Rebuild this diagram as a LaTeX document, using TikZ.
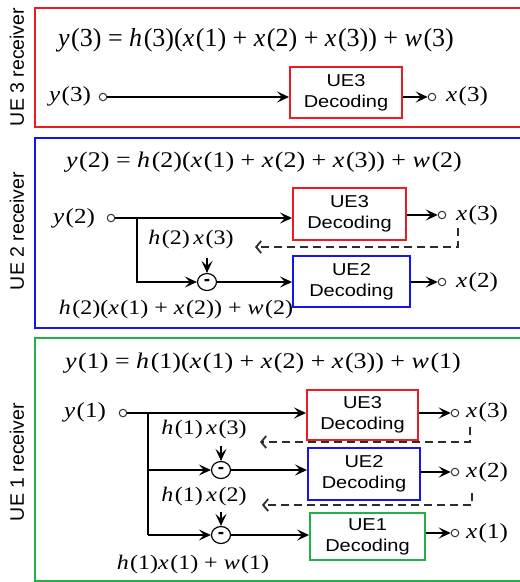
\documentclass[tikz,border=0pt]{standalone}
\usepackage{fontspec}
\setmainfont{Liberation Serif}
\setsansfont{Liberation Sans}
\newfontfamily\tms{Liberation Serif}
\usepackage{graphicx}
\usetikzlibrary{arrows.meta,shapes.geometric}
\definecolor{cred}{RGB}{237,28,36}
\definecolor{cblue}{RGB}{20,20,240}
\definecolor{cgreen}{RGB}{34,175,76}
\definecolor{cdash}{RGB}{45,45,45}
\newcommand\Vv[2]{\textit{#1}\kern0.06em(#2)}
\newcommand\op[1]{\hspace{0.25em}#1\hspace{0.25em}}
\newcommand\sq[1]{\scalebox{1}[0.86]{#1}}
\tikzset{
  frame/.style={line width=2.2pt},
  lab/.style={font=\sffamily\fontsize{19.5}{20}\selectfont, inner sep=0, rotate=90},
  eqn/.style={font=\tms\fontsize{26}{27}\selectfont, inner sep=0},
  mt/.style={font=\tms\fontsize{25}{26}\selectfont, inner sep=0},
  sm/.style={font=\tms\fontsize{24}{25}\selectfont, inner sep=0},
  dec/.style={draw, line width=1.9pt, inner sep=0, align=center,
    font=\sffamily\fontsize{20}{21}\selectfont},
  port/.style={circle, draw=black!80, line width=1pt, minimum size=7.5pt, inner sep=0, fill=white},
  sub/.style={ellipse, draw, line width=1.2pt, minimum width=19pt, minimum height=17pt, inner sep=0,
    font=\sffamily\bfseries\fontsize{19}{19}\selectfont},
  sig/.style={line width=1.9pt, -{Stealth[length=12pt,width=11pt,inset=5pt]}},
  ln/.style={line width=1.9pt},
  fb/.style={line width=1.8pt, draw=cdash, dash pattern=on 8pt off 5pt, -{Straight Barb[length=5pt,width=12pt,line width=1.8pt]}}
}
\begin{document}
\begin{tikzpicture}[x=1pt,y=1pt]
\clip (0,0) rectangle (520,-582);
\fill[white] (0,0) rectangle (520,-582);

% ---------- Panel 1 : UE3 receiver ----------
\draw[frame, cred] (35,-8) rectangle (530,-127);
\node[lab] (l3) at (17,-67) {UE 3 receiver};
\node[eqn] (e3) at (256,-40) {\Vv{y}{3}\op{=}\Vv{h}{3}(\Vv{x}{1}\op{+}\Vv{x}{2}\op{+}\Vv{x}{3})\op{+}\Vv{w}{3}};
\node[mt] (y3) at (70,-96) {\sq{\Vv{y}{3}}};
\node[port] (p3) at (103,-97) {};
\node[dec, draw=cred, minimum width=112pt, minimum height=51pt] (d3) at (346,-92.5) {\sq{UE3}\\\sq{Decoding}};
\node[port] (o3) at (432,-97) {};
\node[mt] (x3) at (467,-96) {\sq{\Vv{x}{3}}};
\draw[sig] (p3) -- (p3 -| d3.west);
\draw[sig] (d3.east |- o3) -- (o3);

% ---------- Panel 2 : UE2 receiver ----------
\draw[frame, cblue] (35,-138) rectangle (530,-328);
\node[lab] (l2) at (17,-231) {UE 2 receiver};
\node[eqn] (e2) at (264,-162) {\sq{\Vv{y}{2}\op{=}\Vv{h}{2}(\Vv{x}{1}\op{+}\Vv{x}{2}\op{+}\Vv{x}{3})\op{+}\Vv{w}{2}}};
\node[mt] (y2) at (74,-218) {\sq{\Vv{y}{2}}};
\node[port] (p2) at (111,-218) {};
\node[dec, draw=cred, minimum width=113pt, minimum height=52pt] (d23) at (349.5,-214) {\sq{UE3}\\\sq{Decoding}};
\node[dec, draw=cblue, minimum width=117pt, minimum height=51pt] (d22) at (351.5,-281.5) {\sq{UE2}\\\sq{Decoding}};
\node[sub] (m2) at (207,-282) {-};
\coordinate (b2) at (137,-218);
\node[port] (o23) at (442,-215) {};
\node[port] (o22) at (442,-282) {};
\node[mt] (x23) at (477,-215) {\sq{\Vv{x}{3}}};
\node[mt] (x22) at (477,-282) {\sq{\Vv{x}{2}}};
\node[sm] (h23) at (191,-240) {\sq{\Vv{h}{2}\kern0.15em\Vv{x}{3}}};
\node[sm] (r2) at (176,-310) {\sq{\Vv{h}{2}(\Vv{x}{1}\op{+}\Vv{x}{2})\op{+}\Vv{w}{2}}};
\draw[sig] (p2) -- (d23.west |- p2);
\draw[sig] (b2) |- (m2);
\draw[sig] (m2) -- (d22.west |- m2);
\draw[sig] (d23.east |- o23) -- (o23);
\draw[sig] (d22.east |- o22) -- (o22);
\coordinate (f2a) at (458,-228);
\coordinate (f2b) at (458,-247);
\coordinate (f2c) at (255,-247);
\draw[fb] (f2a) -- (f2b) -- (f2c);
\coordinate (t2) at (207,-258);
\draw[sig] (t2) -- (m2);

% ---------- Panel 3 : UE1 receiver ----------
\draw[frame, cgreen] (35,-338) rectangle (530,-581);
\node[lab] (l1) at (17,-462) {UE 1 receiver};
\node[eqn] (e1) at (263,-363) {\sq{\Vv{y}{1}\op{=}\Vv{h}{1}(\Vv{x}{1}\op{+}\Vv{x}{2}\op{+}\Vv{x}{3})\op{+}\Vv{w}{1}}};
\node[mt] (y1) at (85,-412) {\sq{\Vv{y}{1}}};
\node[port] (p1) at (123,-413) {};
\coordinate (b1) at (148,-413);
\node[dec, draw=cred, minimum width=111pt, minimum height=50pt] (d13) at (362.5,-415) {\sq{UE3}\\\sq{Decoding}};
\node[dec, draw=cblue, minimum width=112pt, minimum height=52pt] (d12) at (364,-474) {\sq{UE2}\\\sq{Decoding}};
\node[dec, draw=cgreen, minimum width=115pt, minimum height=47pt] (d11) at (367.5,-536.5) {\sq{UE1}\\\sq{Decoding}};
\node[sub] (m11) at (221,-470) {-};
\node[sub] (m12) at (221,-535) {-};
\node[port] (o13) at (455,-413) {};
\node[port] (o12) at (455,-472) {};
\node[port] (o11) at (455,-533) {};
\node[mt] (x13) at (487,-412) {\sq{\Vv{x}{3}}};
\node[mt] (x12) at (487,-472) {\sq{\Vv{x}{2}}};
\node[mt] (x11) at (487,-533) {\sq{\Vv{x}{1}}};
\node[sm] (h13) at (204,-430) {\sq{\Vv{h}{1}\kern0.15em\Vv{x}{3}}};
\node[sm] (h12) at (204,-497) {\sq{\Vv{h}{1}\kern0.15em\Vv{x}{2}}};
\node[sm] (r1) at (193,-565) {\sq{\Vv{h}{1}\Vv{x}{1}\op{+}\Vv{w}{1}}};
\draw[sig] (p1) -- (d13.west |- p1);
\draw[ln] (b1) -- (b1 |- m12);
\draw[sig] (b1 |- m11) -- (m11);
\draw[sig] (b1 |- m12) -- (m12);
\draw[sig] (m11) -- (d12.west |- m11);
\draw[sig] (m12) -- (d11.west |- m12);
\draw[sig] (d13.east |- o13) -- (o13);
\draw[sig] (d12.east |- o12) -- (o12);
\draw[sig] (d11.east |- o11) -- (o11);
\coordinate (f1a) at (470,-427);
\coordinate (f1b) at (470,-442);
\coordinate (f1c) at (260,-442);
\draw[fb] (f1a) -- (f1b) -- (f1c);
\coordinate (g1a) at (472,-493);
\coordinate (g1b) at (472,-505);
\coordinate (g1c) at (262,-505);
\draw[fb] (g1a) -- (g1b) -- (g1c);
\coordinate (t11) at (221,-446);
\coordinate (t12) at (221,-512);
\draw[sig] (t11) -- (m11);
\draw[sig] (t12) -- (m12);
\end{tikzpicture}
\end{document}
